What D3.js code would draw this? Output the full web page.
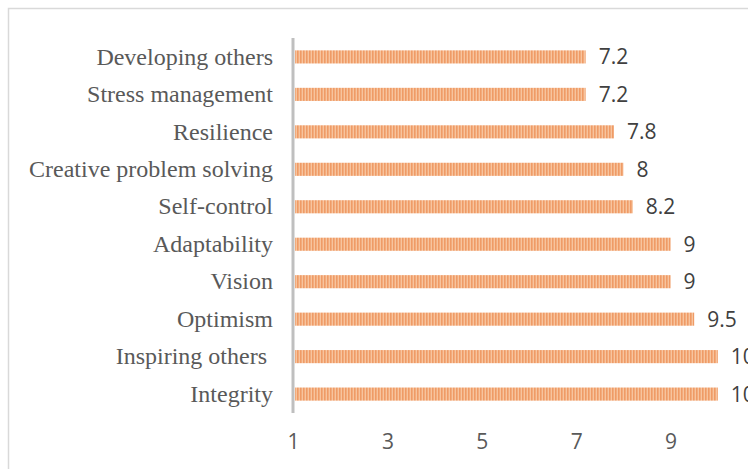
<!DOCTYPE html>
<html>
<head>
<meta charset="utf-8">
<script src="https://cdn.jsdelivr.net/npm/d3@7"></script>
<style>
  body { margin: 0; background: #fff; }
  svg text { white-space: pre; }
</style>
</head>
<body>
<div id="chart"></div>
<script>
// competencies, top to bottom as drawn
const categories = ['Developing others', 'Stress management', 'Resilience',
  'Creative problem solving', 'Self-control', 'Adaptability', 'Vision',
  'Optimism', 'Inspiring others ', 'Integrity']
const scores = [7.2, 7.2, 7.8, 8, 8.2, 9, 9, 9.5, 10, 10]
const tickValues = [1, 3, 5, 7, 9]

const width = 748
const height = 469

const svg = d3.select('#chart')
  .append('svg')
  .attr('width', width)
  .attr('height', height)

// stripy fill like the original
const defs = svg.append('defs')
const pat = defs.append('pattern')
  .attr('id', 'stripes')
  .attr('patternUnits', 'userSpaceOnUse')
  .attr('width', 3)
  .attr('height', 10)
pat.append('rect').attr('width', 3).attr('height', 10).attr('fill', '#f7c49e')
pat.append('rect').attr('width', 1.6).attr('height', 10).attr('fill', '#ef9b66')

// outer frame
svg.append('rect')
  .attr('x', 8.5)
  .attr('y', 8.5)
  .attr('width', 760)
  .attr('height', 480)
  .attr('fill', 'none')
  .attr('stroke', '#d9d9d9')
  .attr('stroke-width', 1.5)

const x = d3.scaleLinear().domain([1, 11]).range([293, 765])
const y = d3.scaleBand().domain(categories).range([38, 413]).paddingInner(0.65).paddingOuter(0.33)

// bars
svg.selectAll('rect.bar')
  .data(categories)
  .enter().append('rect')
  .attr('class', 'bar')
  .attr('x', x(1) + 2)
  .attr('y', d => y(d))
  .attr('width', (d, i) => x(scores[i]) - x(1) - 2)
  .attr('height', y.bandwidth())
  .attr('fill', 'url(#stripes)')

// value labels
svg.selectAll('text.val')
  .data(categories)
  .enter().append('text')
  .attr('class', 'val')
  .attr('x', (d, i) => x(scores[i]) + 13)
  .attr('y', d => y(d) + y.bandwidth() / 2)
  .attr('dy', '0.36em')
  .attr('font-family', 'Open Sans, Liberation Sans, sans-serif')
  .attr('font-size', 21)
  .attr('fill', '#404040')
  .text((d, i) => scores[i])

// category axis
const yAxis = svg.append('g')
  .attr('transform', `translate(${x(1)},0)`)
  .call(d3.axisLeft(y).tickSize(0).tickPadding(20))
yAxis.select('.domain')
  .attr('stroke', '#bfbfbf')
  .attr('stroke-width', 3)
  .attr('d', 'M0,38V413')
yAxis.selectAll('text')
  .attr('font-family', 'Liberation Serif, Times New Roman, serif')
  .attr('font-size', 24)
  .attr('fill', '#595959')

// value axis, labels only
const xAxis = svg.append('g')
  .attr('transform', 'translate(0,430)')
  .call(d3.axisBottom(x).tickValues(tickValues).tickSize(0).tickPadding(4))
xAxis.select('.domain').remove()
xAxis.selectAll('text')
  .attr('font-family', 'Open Sans, Liberation Sans, sans-serif')
  .attr('font-size', 21)
  .attr('fill', '#595959')
</script>
</body>
</html>
